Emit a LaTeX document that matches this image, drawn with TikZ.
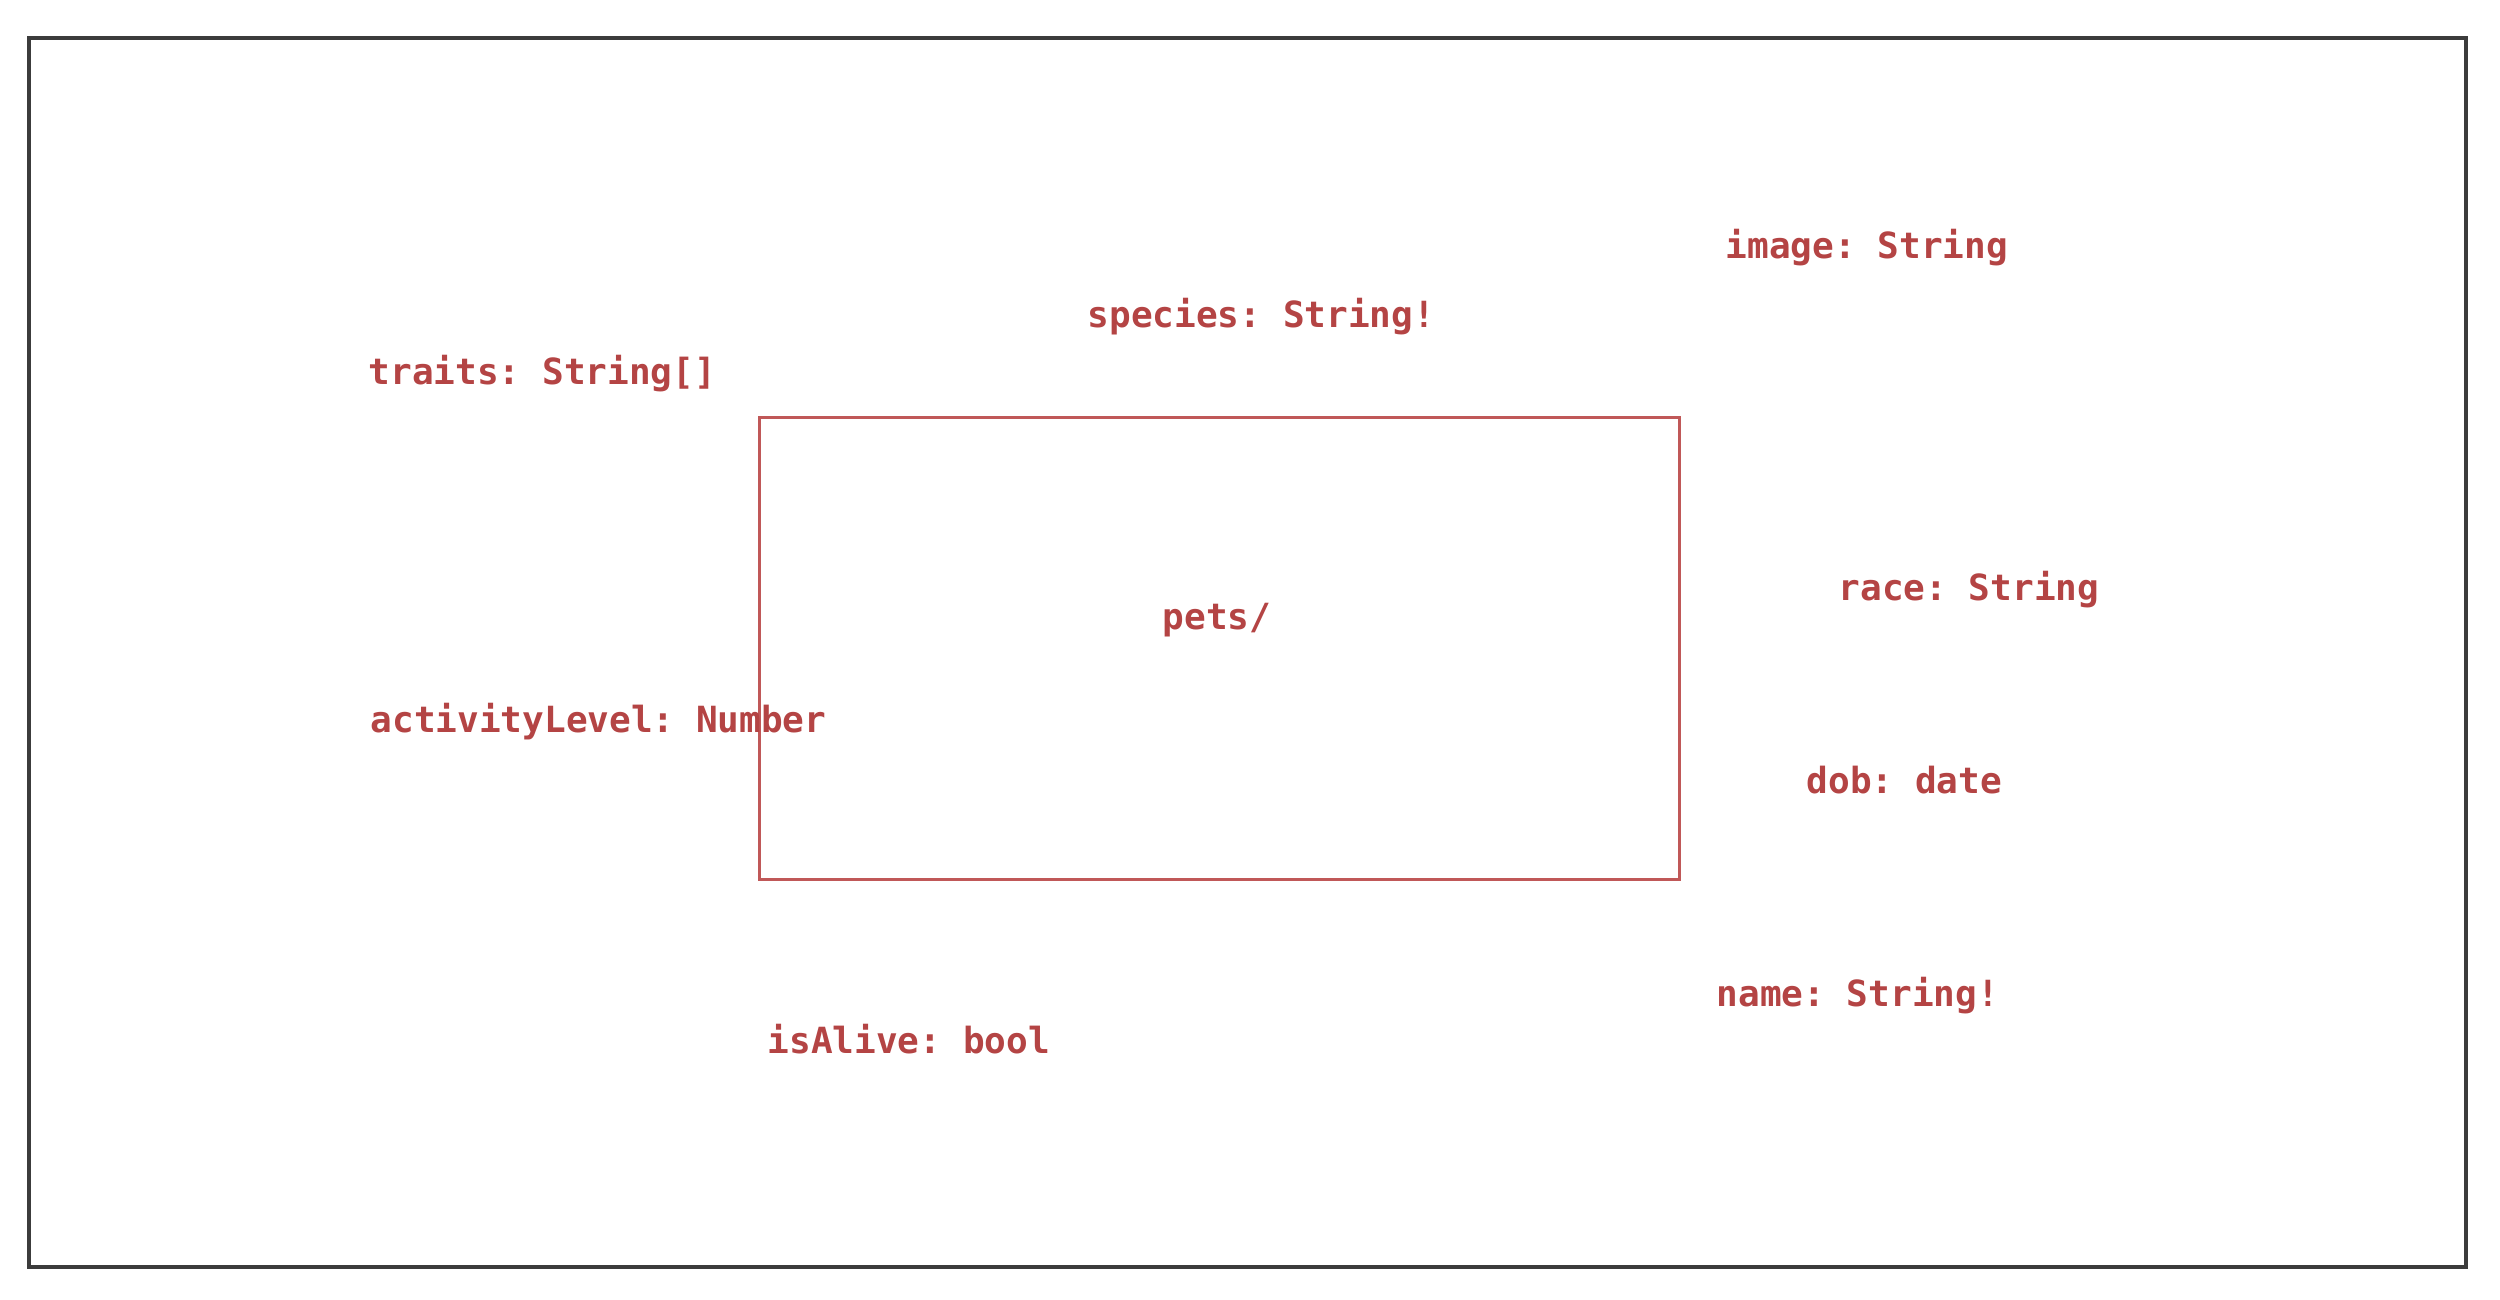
\documentclass[tikz,border=0pt]{standalone}
\usepackage{fontspec}
\setmonofont{DejaVu Sans Mono}
\definecolor{txtred}{RGB}{180,68,68}
\definecolor{boxred}{RGB}{192,88,88}
\definecolor{framegray}{RGB}{60,60,60}
\tikzset{
  field/.style={anchor=base west, inner sep=0pt, text=txtred, font=\ttfamily\bfseries\fontsize{10.25pt}{12pt}\selectfont},
  petbox/.style={draw=boxred, line width=0.8pt, inner sep=0pt, minimum width=9.19cm, minimum height=4.61cm},
  frame/.style={draw=framegray, line width=0.9pt}
}
\begin{document}
\begin{tikzpicture}[x=0.01cm,y=-0.01cm]
\useasboundingbox (0,0) rectangle (2500,1299);
\draw[frame] (29,38) rectangle (2466,1267);
\node[petbox] (box) at (1219.5,648.5) {};
\node[field] (pets) at (1162,629) {pets/};
\node[field] (image) at (1725,258) {image: String};
\node[field] (species) at (1087,327) {species: String!};
\node[field] (traits) at (368,384) {traits: String[]};
\node[field] (race) at (1838,600) {race: String};
\node[field] (activity) at (370,732) {activityLevel: Number};
\node[field] (dob) at (1806,793) {dob: date};
\node[field] (name) at (1716,1006) {name: String!};
\node[field] (alive) at (767,1053) {isAlive: bool};
\end{tikzpicture}
\end{document}
